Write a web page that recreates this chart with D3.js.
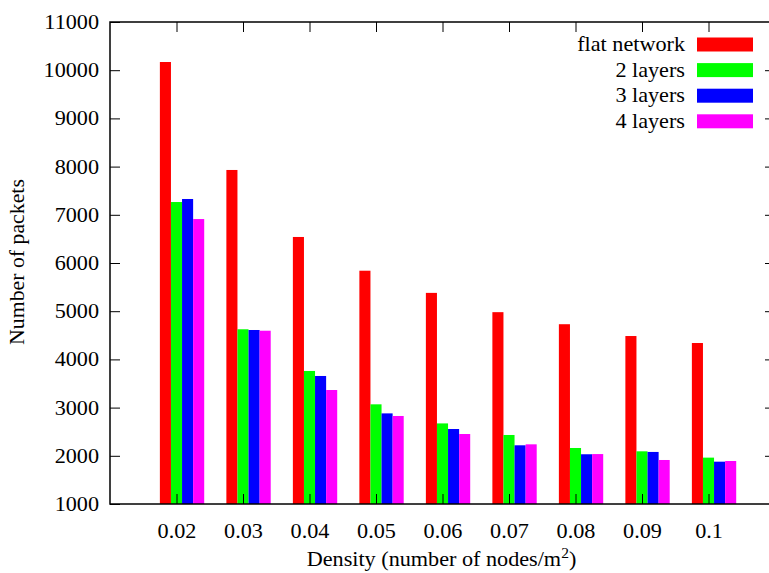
<!DOCTYPE html>
<html>
<head>
<meta charset="utf-8">
<script src="https://cdn.jsdelivr.net/npm/d3@7/dist/d3.min.js"></script>
<style>
  html, body { margin: 0; padding: 0; background: #fff; }
  svg text { font-family: "Liberation Serif", "Times New Roman", serif; fill: #000; }
</style>
</head>
<body>
<svg id="chart" width="769" height="573"></svg>
<script>
// Densities on the x axis
const densities = ["0.02", "0.03", "0.04", "0.05", "0.06", "0.07", "0.08", "0.09", "0.1"];
// Series names and colours
const seriesNames = ["flat network", "2 layers", "3 layers", "4 layers"];
const seriesColors = ["#ff0000", "#00ff00", "#0000ff", "#ff00ff"];
// Number of packets per density
const flatNetwork = [10170, 7930, 6540, 5840, 5380, 4980, 4730, 4485, 4340];
const twoLayers   = [7265, 4625, 3760, 3068, 2672, 2432, 2162, 2093, 1962];
const threeLayers = [7328, 4610, 3656, 2880, 2556, 2218, 2032, 2080, 1878];
const fourLayers  = [6912, 4595, 3365, 2826, 2452, 2238, 2036, 1913, 1892];
const yTicks = [1000, 2000, 3000, 4000, 5000, 6000, 7000, 8000, 9000, 10000, 11000];

const series = [flatNetwork, twoLayers, threeLayers, fourLayers];

const svg = d3.select("#chart");
const plotL = 110, plotR = 775, plotT = 22, plotB = 504;
const widen = 1.11; // horizontal widening of the serif labels

const x = d3.scaleLinear().domain([-1, 9]).range([plotL, plotR]);
const y = d3.scaleLinear().domain([1000, 11000]).range([plotB, plotT]);
const barW = (x(1) - x(0)) / 6;

// Widen text horizontally while keeping its anchor point fixed
function stretch(sel) {
  sel.each(function () {
    const t = d3.select(this);
    const x0 = +(t.attr("x") || 0);
    const y0 = +(t.attr("y") || 0);
    t.attr("x", x0 / widen).attr("y", y0)
      .attr("transform", `scale(${widen},1)`);
  });
}

// Bars: four per cluster, ticks sit at the centre of the second bar
const groups = svg.append("g");
series.forEach((vals, j) => {
  groups.selectAll(null)
    .data(vals)
    .join("rect")
    .attr("x", (d, i) => x(i) - 1.5 * barW + j * barW)
    .attr("y", d => y(d))
    .attr("width", barW)
    .attr("height", d => y(1000) - y(d))
    .attr("fill", seriesColors[j]);
});

// Axes with inward ticks
const tickStyle = g => {
  g.select(".domain").remove();
  g.selectAll(".tick line").attr("stroke", "#000").attr("stroke-width", 1);
};

svg.append("g")
  .attr("transform", `translate(${plotL},0)`)
  .call(d3.axisLeft(y).tickValues(yTicks).tickSize(-10).tickPadding(11).tickFormat(d3.format("d")))
  .call(tickStyle)
  .call(g => g.selectAll(".tick text").style("font-size", "20px").attr("font-family", null).call(stretch));

svg.append("g")
  .attr("transform", `translate(${plotR},0)`)
  .call(d3.axisRight(y).tickValues(yTicks.slice(1, -1)).tickSize(-10).tickFormat(""))
  .call(tickStyle);

svg.append("g")
  .attr("transform", `translate(0,${plotT})`)
  .call(d3.axisTop(x).tickValues(d3.range(densities.length)).tickSize(-10).tickFormat(""))
  .call(tickStyle);

svg.append("g")
  .attr("transform", `translate(0,${plotB})`)
  .call(d3.axisBottom(x).tickValues(d3.range(densities.length)).tickSize(-10).tickPadding(20)
    .tickFormat(i => densities[i]))
  .call(tickStyle)
  .call(g => g.selectAll(".tick text").style("font-size", "20px").attr("font-family", null).call(stretch));

// Frame
svg.append("rect")
  .attr("x", plotL).attr("y", plotT)
  .attr("width", plotR - plotL).attr("height", plotB - plotT)
  .attr("fill", "none").attr("stroke", "#000").attr("stroke-width", 1.5);

// Axis titles
svg.append("text")
  .attr("transform", `translate(24,262) rotate(-90) scale(1.09,1)`)
  .attr("text-anchor", "middle")
  .style("font-size", "20px")
  .text("Number of packets");

const xt = svg.append("text")
  .attr("x", (plotL + plotR) / 2 - 1)
  .attr("y", 566)
  .attr("text-anchor", "middle")
  .style("font-size", "20px");
xt.append("tspan").text("Density (number of nodes/m");
xt.append("tspan").attr("dy", -8).style("font-size", "14px").text("2");
xt.append("tspan").attr("dy", 8).text(")");
xt.call(stretch);

// Legend
const legend = svg.append("g");
seriesNames.forEach((name, j) => {
  const cy = 44.5 + j * 25.6;
  legend.append("text")
    .attr("x", 685).attr("y", cy + 6.5)
    .attr("text-anchor", "end")
    .style("font-size", "20px")
    .text(name)
    .call(stretch);
  legend.append("rect")
    .attr("x", 697).attr("y", cy - 7)
    .attr("width", 56).attr("height", 14)
    .attr("fill", seriesColors[j]);
});
</script>
</body>
</html>
